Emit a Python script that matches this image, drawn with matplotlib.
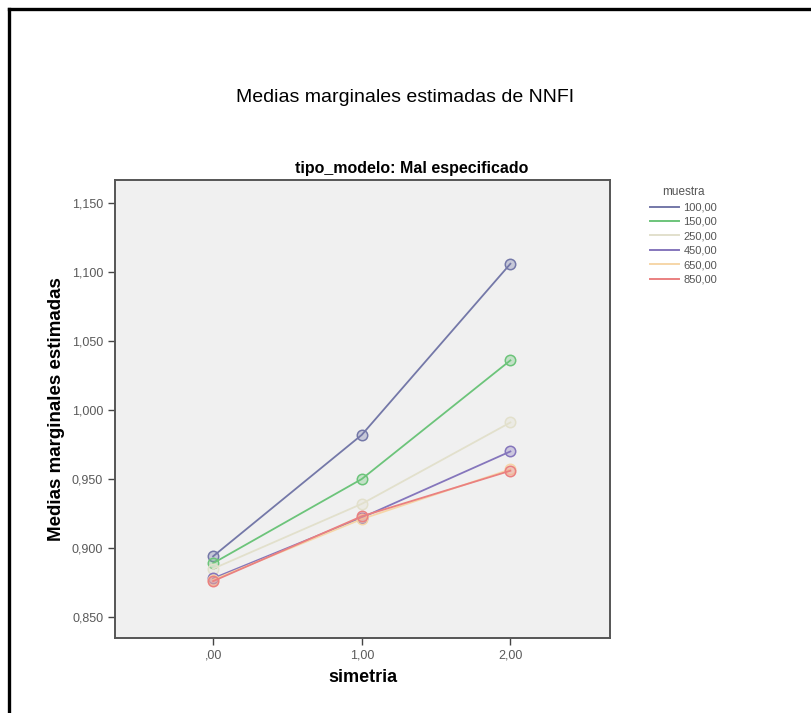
import matplotlib.pyplot as plt
from matplotlib.lines import Line2D
import numpy as np

plt.rcParams['font.family'] = ['Liberation Sans', 'DejaVu Sans']

simetria = [0, 1, 2]
simetria_labels = [",00", "1,00", "2,00"]
muestras = ["100,00", "150,00", "250,00", "450,00", "650,00", "850,00"]
medias = [
    [0.894, 0.982, 1.106],
    [0.889, 0.950, 1.036],
    [0.885, 0.932, 0.991],
    [0.878, 0.922, 0.970],
    [0.877, 0.921, 0.957],
    [0.876, 0.923, 0.956],
]
y_ticks = [0.85, 0.90, 0.95, 1.00, 1.05, 1.10, 1.15]
y_labels = ["0,850", "0,900", "0,950", "1,000", "1,050", "1,100", "1,150"]
colores = ["#7478a8", "#6cc47a", "#e2e0cc", "#8576bc", "#f6d6a8", "#ea8080"]

fig = plt.figure(figsize=(8.11, 7.13), dpi=100)
ax = fig.add_axes([115/811, 1-638/713, 495/811, 458/713])
ax.set_facecolor("#f0f0f0")

for serie, col in zip(medias, colores):
    ax.plot(simetria, serie, color=col, lw=1.3, marker="o", ms=7.5,
            mfc=col + "55", mec=col, mew=1.1, zorder=3)

ax.set_xlim(-0.66, 2.67)
ax.set_ylim(0.8348, 1.1667)
ax.set_xticks(simetria)
ax.set_xticklabels(simetria_labels)
ax.set_yticks(y_ticks)
ax.set_yticklabels(y_labels)
ax.tick_params(axis="both", direction="out", length=5, width=1, color="#444444",
               labelsize=9, labelcolor="#5a5a5a")
for s in ax.spines.values():
    s.set_color("#555555")
    s.set_linewidth(1.4)

ax.set_xlabel("simetria", fontsize=13, fontweight="bold", labelpad=5)
ax.set_ylabel("Medias marginales estimadas", fontsize=13.5, fontweight="bold", labelpad=5)

fig.text(405/811, 1-98/713, "Medias marginales estimadas de NNFI",
         ha="center", va="center", fontsize=14)
fig.text(412/811, 1-168/713, "tipo_modelo: Mal especificado",
         ha="center", va="center", fontsize=11.5, fontweight="bold")

handles = [Line2D([0], [0], color=c, lw=1.4) for c in colores]
leg = fig.legend(handles, muestras, title="muestra", loc="upper left",
                 bbox_to_anchor=(640/811, 1-176/713), frameon=False,
                 fontsize=8, title_fontsize=8.5, handlelength=2.6,
                 handletextpad=0.4, labelspacing=0.4)
for t in leg.get_texts():
    t.set_color("#555555")
leg.get_title().set_color("#555555")

# marco exterior
fig.add_artist(Line2D([9/811, 1], [1-9/713, 1-9/713], color="black", lw=2.4,
                      transform=fig.transFigure))
fig.add_artist(Line2D([9/811, 9/811], [0, 1-9/713], color="black", lw=2.4,
                      transform=fig.transFigure))

fig.savefig("out.png", dpi=100)
